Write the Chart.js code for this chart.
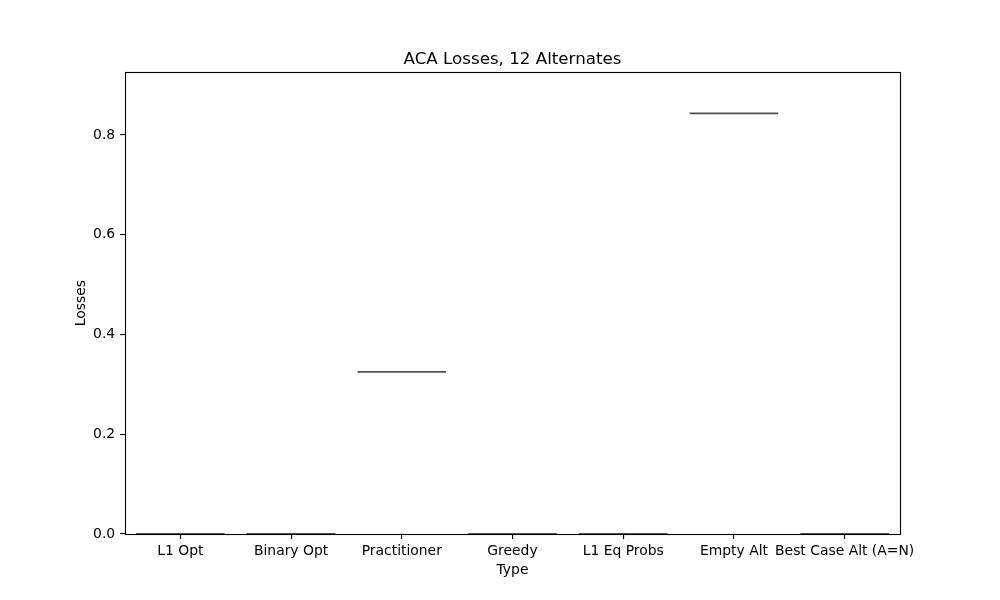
<!DOCTYPE html>
<html>
<head>
<meta charset="utf-8">
<script src="https://cdn.jsdelivr.net/npm/chart.js@4"></script>
<style>
html,body{margin:0;padding:0;background:#fff;}
canvas{display:block;}
</style>
</head>
<body>
<canvas id="c" width="1000" height="600"></canvas>
<script>
const categories = ["L1 Opt", "Binary Opt", "Practitioner", "Greedy", "L1 Eq Probs", "Empty Alt", "Best Case Alt (A=N)"];
const losses = [0, 0, 0.325, 0, 0, 0.843, 0];
const yTicks = [0.0, 0.2, 0.4, 0.6, 0.8];
const yMax = 0.926;

const FONT = "'DejaVu Sans', sans-serif";

const framePlugin = {
  id: 'frame',
  afterDraw(chart) {
    const a = chart.chartArea, ctx = chart.ctx;
    ctx.save();
    ctx.strokeStyle = '#000';
    ctx.lineWidth = 1.1;
    ctx.strokeRect(Math.round(a.left) + 0.5, Math.round(a.top) + 0.5, Math.round(a.right - a.left), Math.round(a.bottom - a.top));
    ctx.restore();
  }
};

new Chart(document.getElementById('c'), {
  type: 'line',
  data: {
    labels: categories,
    datasets: [{
      data: losses,
      showLine: false,
      pointStyle: 'line',
      pointRadius: 44.3,
      pointHoverRadius: 44.3,
      pointBorderWidth: 1.8,
      pointBorderColor: '#505050',
      borderColor: '#505050',
      backgroundColor: '#505050',
      clip: false
    }]
  },
  options: {
    responsive: false,
    animation: false,
    events: [],
    layout: { padding: { left: 25, right: 0, top: 0, bottom: 0 } },
    plugins: {
      legend: { display: false },
      tooltip: { enabled: false },
      title: {
        display: true,
        text: 'ACA Losses, 12 Alternates',
        color: '#000',
        font: { family: FONT, size: 16.7, weight: 'normal' },
        padding: { top: 50, bottom: 2 }
      }
    },
    scales: {
      x: {
        type: 'category',
        offset: true,
        grid: { display: true, drawOnChartArea: false, drawTicks: true, tickLength: 4.9, offset: false, color: '#000', lineWidth: 1.1 },
        border: { display: false },
        ticks: { color: '#000', font: { family: FONT, size: 13.9 }, padding: 4.5, maxRotation: 0, autoSkip: false },
        title: { display: true, text: 'Type', color: '#000', font: { family: FONT, size: 13.9 }, padding: { top: 21.7, bottom: 21.7 } },
        afterFit(s) { s.height = 66; }
      },
      y: {
        min: 0,
        max: yMax,
        grid: { display: true, drawOnChartArea: false, drawTicks: true, tickLength: 4.9, color: '#000', lineWidth: 1.1 },
        border: { display: false },
        ticks: { color: '#000', font: { family: FONT, size: 13.9 }, padding: 4.9, stepSize: 0.2, callback: v => Number(v).toFixed(1) },
        afterBuildTicks(s) { s.ticks = yTicks.map(v => ({ value: v })); },
        title: { display: true, text: 'Losses', color: '#000', font: { family: FONT, size: 13.9 }, padding: { top: 47.7, bottom: 47.7 } },
        afterFit(s) { s.width = 100; }
      },
      yRight: {
        type: 'linear',
        position: 'right',
        display: true,
        grid: { display: false, drawTicks: false },
        border: { display: false },
        ticks: { display: false },
        afterFit(s) { s.width = 100; }
      }
    }
  },
  plugins: [framePlugin]
});
</script>
</body>
</html>
